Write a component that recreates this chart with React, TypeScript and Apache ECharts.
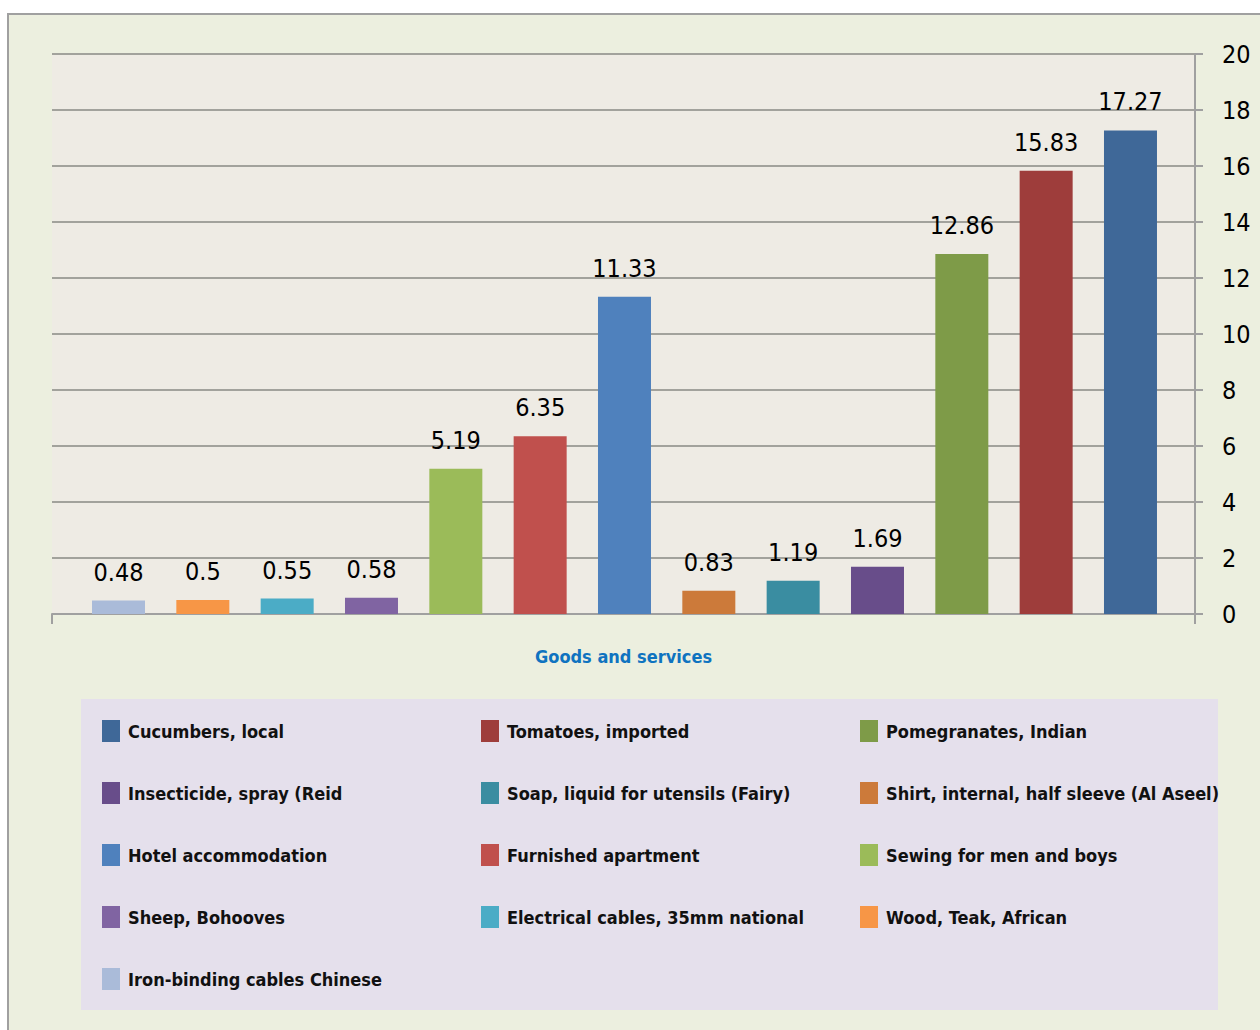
import React, { useEffect, useRef } from "react";
import * as echarts from "echarts";

const categories = [
  "Iron-binding cables Chinese",
  "Wood, Teak, African",
  "Electrical cables, 35mm national",
  "Sheep, Bohooves",
  "Sewing for men and boys",
  "Furnished apartment",
  "Hotel accommodation",
  "Shirt, internal, half sleeve (Al Aseel)",
  "Soap, liquid for utensils (Fairy)",
  "Insecticide, spray (Reid",
  "Pomegranates, Indian",
  "Tomatoes, imported",
  "Cucumbers, local",
];
const values = [0.48, 0.5, 0.55, 0.58, 5.19, 6.35, 11.33, 0.83, 1.19, 1.69, 12.86, 15.83, 17.27];
const colors = [
  "#AABBD9", "#F79646", "#4BACC6", "#8064A2", "#9BBB59", "#C0504D", "#4F81BD",
  "#CC7A3A", "#3A8DA1", "#684D8A", "#7E9B48", "#9E3D3B", "#3F6898",
];
const legendCol1 = ["Cucumbers, local", "Insecticide, spray (Reid", "Hotel accommodation", "Sheep, Bohooves", "Iron-binding cables Chinese"];
const legendCol2 = ["Tomatoes, imported", "Soap, liquid for utensils (Fairy)", "Furnished apartment", "Electrical cables, 35mm national"];
const legendCol3 = ["Pomegranates, Indian", "Shirt, internal, half sleeve (Al Aseel)", "Sewing for men and boys", "Wood, Teak, African"];
const xAxisTitle = "Goods and services";

const FONT = "'DejaVu Sans Condensed', 'Liberation Sans Narrow', sans-serif";

export default function App() {
  const ref = useRef<HTMLDivElement>(null);
  useEffect(() => {
    document.body.style.margin = "0";
    const chart = echarts.init(ref.current!, null, { renderer: "svg" });
    const legendBase = {
      orient: "vertical",
      top: 720,
      itemWidth: 18,
      itemHeight: 22,
      itemGap: 40,
      icon: "rect",
      selectedMode: false,
      textStyle: { fontFamily: FONT, fontSize: 18, fontWeight: "bold", color: "#111", lineHeight: 22, padding: [0, 0, 0, 3] },
      padding: 0,
    };
    chart.setOption({
      animation: false,
      backgroundColor: "#ffffff",
      graphic: [
        { type: "rect", z: -100, shape: { x: 8, y: 14, width: 1400, height: 1200 }, style: { fill: "#ECEFDF", stroke: "#A0A0A0", lineWidth: 2 } },
        { type: "rect", z: -90, shape: { x: 81, y: 699, width: 1137, height: 311 }, style: { fill: "#E5E0EC" } },
      ],
      grid: { left: 52, right: 65, top: 54, bottom: 416, show: true, backgroundColor: "#EEEBE4", borderWidth: 0, containLabel: false, outerBoundsMode: "none" },
      legend: [
        { ...legendBase, left: 102, data: legendCol1 },
        { ...legendBase, left: 481, data: legendCol2 },
        { ...legendBase, left: 860, data: legendCol3 },
      ],
      xAxis: [
        {
          type: "value",
          position: "top",
          min: -0.7885,
          max: 12.765,
          axisLabel: { show: false },
          axisLine: { show: false, onZero: false },
          axisTick: { show: false },
          splitLine: { show: false },
        },
        {
          type: "category",
          position: "bottom",
          data: [""],
          axisLabel: { show: false },
          axisLine: { show: true, onZero: false, lineStyle: { color: "#A0A0A0", width: 2 } },
          axisTick: { show: true, length: 10, lineStyle: { color: "#A0A0A0", width: 2 } },
          name: xAxisTitle,
          nameLocation: "middle",
          nameGap: 33,
          nameTextStyle: { color: "#0F73C0", fontFamily: FONT, fontSize: 18, fontWeight: "bold" },
        },
      ],
      yAxis: {
        type: "value",
        position: "right",
        min: 0,
        max: 20,
        interval: 2,
        axisLine: { show: true, onZero: false, lineStyle: { color: "#A0A0A0", width: 2 } },
        axisTick: { show: true, length: 8, lineStyle: { color: "#A0A0A0", width: 2 } },
        axisLabel: { color: "#000", fontFamily: FONT, fontSize: 25, margin: 27 },
        splitLine: { lineStyle: { color: "#A2A29C", width: 2 } },
      },
      series: categories.map((name, i) => ({
        type: "bar",
        name,
        stack: "all",
        xAxisIndex: 0,
        barWidth: 53,
        data: [[i, values[i]]],
        itemStyle: { color: colors[i] },
        label: { show: true, position: "top", distance: 16, color: "#000", fontFamily: FONT, fontSize: 25 },
      })),
    });
    return () => chart.dispose();
  }, []);
  return <div ref={ref} style={{ width: 1260, height: 1030 }} />;
}
